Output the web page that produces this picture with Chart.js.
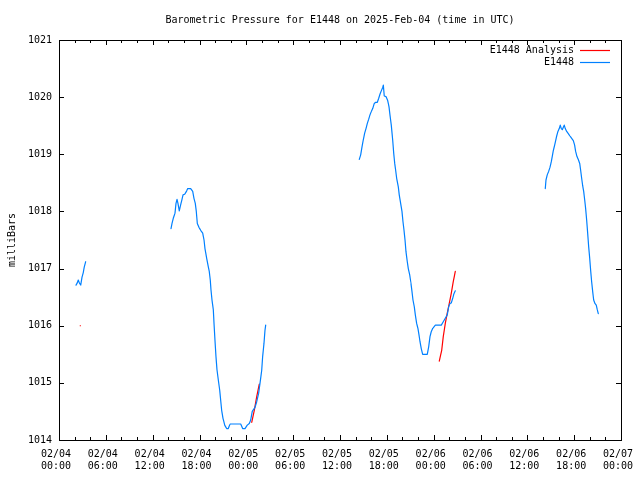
<!DOCTYPE html>
<html>
<head>
<meta charset="utf-8">
<script src="https://cdn.jsdelivr.net/npm/chart.js@4"></script>
<style>
html,body{margin:0;padding:0;background:#fff;}
#c{display:block;}
</style>
</head>
<body>
<canvas id="c" width="640" height="480"></canvas>
<script>
// Hours since 2025-02-04 00:00 UTC, pressure in milliBars
const seg1Hours = [2.18, 2.34, 2.47, 2.60, 2.78, 2.95, 3.11, 3.24, 3.42];
const seg1Press = [1016.71, 1016.75, 1016.80, 1016.75, 1016.71, 1016.85, 1016.93, 1017.03, 1017.12];

const seg2Hours = [14.35,14.48,14.64,14.86,14.99,15.12,15.24,15.41,15.54,15.72,15.89,16.10,16.36,16.49,16.87,17.13,17.29,17.46,17.59,17.72,17.94,18.15,18.41,18.58,18.70,18.92,19.13,19.25,19.38,19.47,19.60,19.77,19.86,19.98,20.11,20.24,20.41,20.59,20.71,20.84,21.01,21.23,21.48,21.69,21.91,23.28,23.53,23.83,24.12,24.38,24.56,24.76,25.11,25.33,25.58,25.75,25.97,26.09,26.26,26.39,26.48];
const seg2Press = [1017.70,1017.79,1017.88,1017.97,1018.14,1018.21,1018.14,1018.01,1018.09,1018.19,1018.29,1018.30,1018.36,1018.40,1018.40,1018.35,1018.23,1018.14,1018.00,1017.79,1017.72,1017.67,1017.62,1017.50,1017.35,1017.18,1017.03,1016.95,1016.80,1016.63,1016.45,1016.28,1016.04,1015.75,1015.46,1015.23,1015.05,1014.87,1014.70,1014.52,1014.38,1014.26,1014.20,1014.20,1014.28,1014.28,1014.20,1014.20,1014.26,1014.29,1014.35,1014.50,1014.57,1014.67,1014.82,1014.99,1015.22,1015.46,1015.69,1015.92,1016.01];

const seg3Hours = [38.47,38.65,38.82,38.98,39.16,39.33,39.50,39.67,39.84,40.01,40.19,40.39,40.57,40.78,40.96,41.12,41.29,41.47,41.55,41.67,41.89,42.11,42.28,42.40,42.57,42.75,42.88,43.01,43.13,43.26,43.47,43.59,43.77,43.94,44.07,44.20,44.33,44.45,44.62,44.75,44.93,45.09,45.22,45.35,45.52,45.65,45.82,45.99,46.12,46.25,46.41,46.59,47.18,47.36,47.53,47.70,47.87,48.21,48.98,49.23,49.49,49.74,49.92,50.09,50.26,50.44,50.60,50.77];
const seg3Press = [1018.91,1018.99,1019.13,1019.25,1019.37,1019.45,1019.54,1019.61,1019.69,1019.75,1019.80,1019.89,1019.91,1019.91,1019.98,1020.05,1020.11,1020.17,1020.21,1020.02,1020.01,1019.94,1019.83,1019.69,1019.51,1019.25,1019.02,1018.84,1018.72,1018.58,1018.43,1018.29,1018.14,1018.00,1017.82,1017.67,1017.50,1017.30,1017.12,1017.00,1016.89,1016.74,1016.60,1016.45,1016.33,1016.19,1016.04,1015.95,1015.84,1015.72,1015.60,1015.50,1015.50,1015.63,1015.81,1015.90,1015.95,1016.01,1016.01,1016.07,1016.13,1016.19,1016.33,1016.39,1016.40,1016.48,1016.56,1016.61];

const seg4Hours = [62.30,62.39,62.55,62.73,62.90,63.07,63.19,63.32,63.50,63.63,63.76,63.92,64.09,64.22,64.35,64.48,64.60,64.73,64.86,65.04,65.25,65.46,65.68,65.89,66.06,66.19,66.36,66.53,66.71,66.83,66.96,67.09,67.22,67.35,67.47,67.60,67.73,67.86,67.99,68.11,68.24,68.37,68.50,68.66,68.83,68.96,69.09];
const seg4Press = [1018.40,1018.55,1018.64,1018.70,1018.77,1018.87,1018.96,1019.06,1019.16,1019.24,1019.32,1019.40,1019.45,1019.51,1019.45,1019.43,1019.47,1019.51,1019.45,1019.40,1019.36,1019.32,1019.28,1019.24,1019.16,1019.05,1018.96,1018.91,1018.84,1018.72,1018.58,1018.45,1018.35,1018.20,1018.05,1017.85,1017.62,1017.38,1017.18,1016.97,1016.77,1016.60,1016.45,1016.39,1016.36,1016.28,1016.21];

const ana1Hours = [2.73];
const ana1Press = [1016.00];
const ana2Hours = [24.69, 25.02, 25.33, 25.66];
const ana2Press = [1014.31, 1014.52, 1014.76, 1014.98];
const ana3Hours = [48.72, 49.03, 49.23, 49.49, 49.74, 50.00, 50.26, 50.51, 50.77];
const ana3Press = [1015.38, 1015.57, 1015.81, 1016.04, 1016.22, 1016.39, 1016.57, 1016.77, 1016.95];

const titleText = 'Barometric Pressure for E1448 on 2025-Feb-04 (time in UTC)';
const yLabel = 'milliBars';
const seriesNames = ['E1448 Analysis', 'E1448'];
const seriesColors = ['#ff0000', '#0080ff'];
const xMin = 0, xMax = 72, xMajor = 6, xMinor = 2;
const yMin = 1014, yMax = 1021, yStep = 1;

function pts(h, p) { return h.map((v, i) => ({x: v, y: p[i]})); }

const FONT = '"DejaVu Sans Mono", "Liberation Mono", monospace';
Chart.defaults.font.family = FONT;
Chart.defaults.font.size = 10;
Chart.defaults.color = '#000';

// a negligible tension keeps Chart.js off its pixel-column "fast path", which adds vertical stubs
const TENSION = 0.000001;

function blue(h, p) {
  return {label: seriesNames[1], data: pts(h, p), borderColor: seriesColors[1], borderWidth: 1.2,
    borderJoinStyle: 'round', borderCapStyle: 'round',
    pointRadius: 0, fill: false, tension: TENSION, order: 0};
}
function red(h, p, r) {
  return {label: seriesNames[0], data: pts(h, p), borderColor: seriesColors[0], backgroundColor: seriesColors[0],
    borderWidth: 1.2, borderJoinStyle: 'round', borderCapStyle: 'round',
    pointRadius: r || 0, pointStyle: 'rect', pointBorderWidth: 0, fill: false, tension: TENSION, order: 1};
}

const frame = {
  id: 'frame',
  afterDatasetsDraw(chart) {
    const ctx = chart.ctx, a = chart.chartArea, xs = chart.scales.x, ys = chart.scales.y;
    ctx.save();
    ctx.strokeStyle = '#000';
    ctx.lineWidth = 1;
    ctx.beginPath();
    for (let v = xMin; v <= xMax; v += xMinor) {
      const len = (v % xMajor === 0) ? 5 : 3;
      const px = Math.round(xs.getPixelForValue(v)) + 0.5;
      ctx.moveTo(px, a.bottom); ctx.lineTo(px, a.bottom - len);
      ctx.moveTo(px, a.top); ctx.lineTo(px, a.top + len);
    }
    for (let v = yMin; v <= yMax; v += yStep) {
      const py = Math.round(ys.getPixelForValue(v)) + 0.5;
      ctx.moveTo(a.left, py); ctx.lineTo(a.left + 5, py);
      ctx.moveTo(a.right, py); ctx.lineTo(a.right - 5, py);
    }
    ctx.stroke();
    ctx.strokeRect(Math.round(a.left) + 0.5, Math.round(a.top) + 0.5,
      Math.round(a.right - a.left), Math.round(a.bottom - a.top));
    // key
    ctx.font = '10px ' + FONT;
    ctx.textAlign = 'right';
    ctx.textBaseline = 'middle';
    ctx.fillStyle = '#000';
    const rows = [50.5, 62.5];
    ctx.lineWidth = 1.2;
    for (let i = 0; i < seriesNames.length; i++) {
      ctx.fillText(seriesNames[i], a.right - 47, rows[i]);
      ctx.beginPath();
      ctx.strokeStyle = seriesColors[i];
      ctx.moveTo(a.right - 41, rows[i]); ctx.lineTo(a.right - 11, rows[i]);
      ctx.stroke();
    }
    ctx.restore();
  }
};

new Chart(document.getElementById('c'), {
  type: 'line',
  data: {
    datasets: [
      red(ana1Hours, ana1Press, 0.8),
      red(ana2Hours, ana2Press),
      red(ana3Hours, ana3Press),
      blue(seg1Hours, seg1Press),
      blue(seg2Hours, seg2Press),
      blue(seg3Hours, seg3Press),
      blue(seg4Hours, seg4Press)
    ]
  },
  options: {
    responsive: false,
    animation: false,
    devicePixelRatio: 1,
    layout: {padding: {left: 0, right: 19, top: 0, bottom: 0}},
    plugins: {
      legend: {display: false},
      tooltip: {enabled: false},
      title: {display: true, text: titleText, fullSize: false, color: '#000',
        font: {size: 10, weight: 'normal', lineHeight: 1.2}, padding: {top: 14, bottom: 14}}
    },
    scales: {
      x: {
        type: 'linear', min: xMin, max: xMax,
        grid: {display: false, drawTicks: false},
        border: {display: false},
        afterFit: s => { s.height = 40; s.paddingLeft = 0; s.paddingRight = 0; },
        ticks: {
          stepSize: xMajor, autoSkip: false, maxRotation: 0, padding: 8, color: '#000',
          callback: v => {
            const day = 4 + Math.floor(v / 24);
            const hr = v % 24;
            return ['02/0' + day + ' ', String(hr).padStart(2, '0') + ':00 '];
          }
        }
      },
      y: {
        type: 'linear', min: yMin, max: yMax,
        grid: {display: false, drawTicks: false},
        border: {display: false},
        afterFit: s => { s.width = 59; s.paddingTop = 0; s.paddingBottom = 0; },
        title: {display: true, text: yLabel, color: '#000', font: {size: 10, lineHeight: 1.2}, padding: {top: 6, bottom: 0}},
        ticks: {stepSize: yStep, padding: 7, color: '#000', callback: v => String(v)}
      }
    }
  },
  plugins: [frame]
});
</script>
</body>
</html>
